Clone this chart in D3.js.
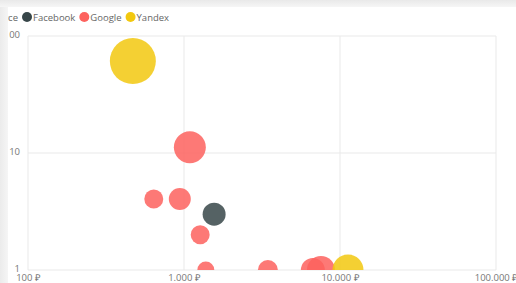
<!DOCTYPE html>
<html>
<head>
<meta charset="utf-8">
<script src="https://cdn.jsdelivr.net/npm/d3@7"></script>
<style>
  body { margin: 0; background: #fff; }
  svg { display: block; font-family: "Open Sans", "Segoe UI", sans-serif; }
</style>
</head>
<body>
<svg id="chart" width="516" height="283"></svg>
<script>
// data
const sources = ["Facebook", "Google", "Yandex"]
const sourceColors = ["#374649", "#FD625E", "#F2C80F"]

const pointSource = ["Yandex", "Google", "Google", "Google", "Facebook", "Google", "Google", "Google", "Google", "Google", "Yandex"]
const pointCost   = [470, 1090, 640, 940, 1560, 1270, 1380, 3450, 6700, 7550, 11250]
const pointValue  = [61, 11.2, 4.05, 4.05, 3.0, 2.0, 1, 1, 1, 1, 1]
const pointSize   = [530, 256, 90, 121, 132, 90, 72, 100, 144, 196, 240]

const xTicks = [100, 1000, 10000, 100000]
const yTicks = [1, 10, 100]

const svg = d3.select("#chart")
const W = 516, H = 283
const margin = { top: 36, right: 20, bottom: 13, left: 28 }

// card background with the shadow strip on top and left
svg.append("rect").attr("width", W).attr("height", H).attr("fill", "#efefef")
const defs = svg.append("defs")
const gTop = defs.append("linearGradient").attr("id", "gTop").attr("x1", 0).attr("y1", 0).attr("x2", 0).attr("y2", 1)
gTop.append("stop").attr("offset", "0%").attr("stop-color", "#e9e9e9")
gTop.append("stop").attr("offset", "100%").attr("stop-color", "#f6f6f6")
svg.append("rect").attr("width", W).attr("height", 7).attr("fill", "url(#gTop)")
const gLeft = defs.append("linearGradient").attr("id", "gLeft").attr("x1", 0).attr("y1", 0).attr("x2", 1).attr("y2", 0)
gLeft.append("stop").attr("offset", "0%").attr("stop-color", "#ebebeb")
gLeft.append("stop").attr("offset", "100%").attr("stop-color", "#f5f5f5")
svg.append("rect").attr("y", 7).attr("width", 8).attr("height", H - 7).attr("fill", "url(#gLeft)")
svg.append("rect").attr("x", 8).attr("y", 7).attr("width", W - 8).attr("height", H - 7).attr("fill", "#fff")

const plotBottom = H - margin.bottom

defs.append("clipPath").attr("id", "card")
  .append("rect").attr("x", 8).attr("y", 7).attr("width", W - 8).attr("height", H - 7)
defs.append("clipPath").attr("id", "plotClip")
  .append("rect").attr("x", margin.left).attr("y", 0).attr("width", W - margin.left - margin.right).attr("height", plotBottom)

const root = svg.append("g").attr("clip-path", "url(#card)")

const x = d3.scaleLog().domain([100, 100000]).range([margin.left, W - margin.right])
const y = d3.scaleLog().domain([1, 100]).range([plotBottom, margin.top])
const r = d3.scaleSqrt().domain([0, d3.max(pointSize)]).range([0, 23])
const color = d3.scaleOrdinal().domain(sources).range(sourceColors)

const rub = d3.formatLocale({ decimal: ",", thousands: ".", grouping: [3], currency: ["", " ₽"] }).format("$,")

// grid
root.append("g").selectAll("line").data(xTicks).enter().append("line")
  .attr("x1", d => x(d)).attr("x2", d => x(d))
  .attr("y1", y(100)).attr("y2", y(1))
  .attr("stroke", "#e9e9e9")
root.append("g").selectAll("line").data(yTicks).enter().append("line")
  .attr("x1", x(100)).attr("x2", x(100000))
  .attr("y1", d => y(d)).attr("y2", d => y(d))
  .attr("stroke", "#e9e9e9")

// axes
const xAxis = d3.axisBottom(x).tickValues(xTicks).tickFormat(rub).tickSize(0).tickPadding(4)
const yAxis = d3.axisLeft(y).tickValues(yTicks).tickFormat(d3.format("d")).tickSize(0).tickPadding(8)

const gx = root.append("g").attr("transform", `translate(0,${y(1)})`).call(xAxis)
const gy = root.append("g").attr("transform", `translate(${x(100)},0)`).call(yAxis)
root.selectAll(".domain").remove()
root.selectAll(".tick text").attr("fill", "#777").style("font-size", "9.5px")
  .style("font-family", "'Open Sans', sans-serif")
gy.selectAll(".tick text").attr("dy", "0.2em")

// bubbles
const points = pointCost.map((c, i) => ({ cost: c, value: pointValue[i], size: pointSize[i], source: pointSource[i] }))
root.append("g").attr("clip-path", "url(#plotClip)")
  .selectAll("circle").data(points).enter().append("circle")
  .attr("cx", d => x(d.cost))
  .attr("cy", d => y(d.value))
  .attr("r", d => r(d.size))
  .attr("fill", d => color(d.source))
  .attr("fill-opacity", 0.85)

// legend
const legend = root.append("g").attr("transform", "translate(0,17)")
legend.append("text").attr("x", 18).attr("y", 3.5).attr("text-anchor", "end")
  .attr("fill", "#666").style("font-size", "9.5px").text("Source")
let lx = 27
sources.forEach(s => {
  legend.append("circle").attr("cx", lx).attr("cy", 0).attr("r", 5).attr("fill", color(s))
  const t = legend.append("text").attr("x", lx + 6).attr("y", 3.5)
    .attr("fill", "#666").style("font-size", "9.5px").text(s)
  lx += 6 + t.node().getComputedTextLength() + 9
})
</script>
</body>
</html>
